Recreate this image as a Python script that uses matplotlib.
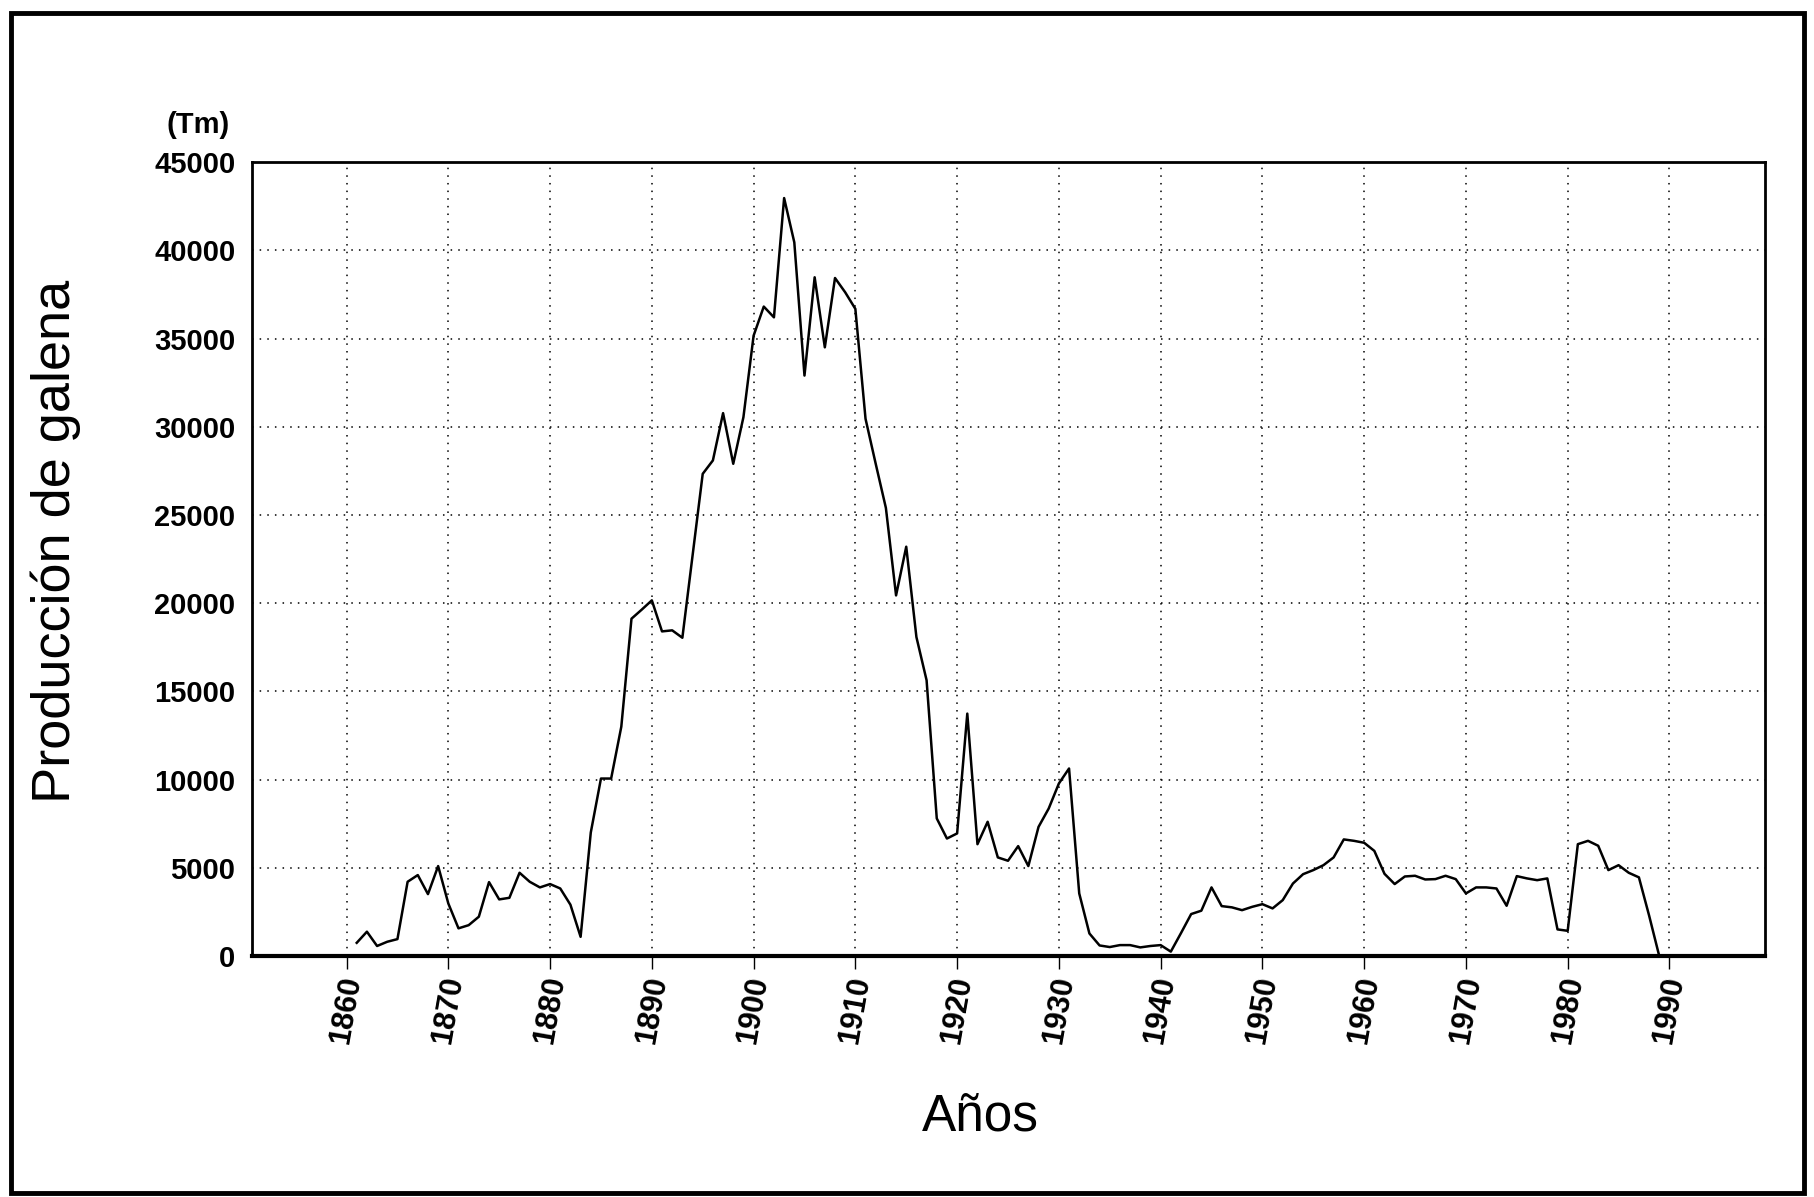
import numpy as np
import matplotlib
matplotlib.use("Agg")
import matplotlib.pyplot as plt
from matplotlib.patches import Rectangle

plt.rcParams["font.family"] = ["Liberation Sans", "DejaVu Sans"]

# producción anual de galena (Tm), 1861-1989
years = np.arange(1861, 1990)
produccion = [
    750, 1380, 570, 810, 960, 4210, 4590, 3510, 5100, 2980,          # 1861-1870
    1570, 1750, 2230, 4190, 3210, 3300, 4720, 4210, 3890, 4080,      # 1871-1880
    3830, 2910, 1090, 7000, 10060, 10060, 13000, 19120, 19630, 20160,  # 1881-1890
    18400, 18460, 18040, 22700, 27330, 28090, 30770, 27900, 30540, 35160,  # 1891-1900
    36810, 36200, 42960, 40450, 32900, 38470, 34500, 38430, 37620, 36680,  # 1901-1910
    30450, 27900, 25400, 20440, 23200, 18080, 15630, 7800, 6660, 6950,  # 1911-1920
    13740, 6340, 7610, 5590, 5400, 6230, 5100, 7320, 8360, 9780,     # 1921-1930
    10630, 3550, 1280, 600, 510, 620, 620, 490, 570, 620,            # 1931-1940
    250, 1300, 2380, 2570, 3890, 2830, 2760, 2600, 2790, 2940,       # 1941-1950
    2700, 3170, 4110, 4640, 4870, 5150, 5590, 6610, 6530, 6420,      # 1951-1960
    5960, 4660, 4080, 4510, 4550, 4340, 4360, 4550, 4360, 3550,      # 1961-1970
    3890, 3890, 3830, 2850, 4530, 4400, 4300, 4400, 1510, 1430,      # 1971-1980
    6340, 6530, 6250, 4870, 5150, 4720, 4460, 2300, 0,               # 1981-1989
]
x_ticks = [1860, 1870, 1880, 1890, 1900, 1910, 1920, 1930, 1940, 1950, 1960, 1970, 1980, 1990]
y_ticks = [0, 5000, 10000, 15000, 20000, 25000, 30000, 35000, 40000, 45000]

fig = plt.figure(figsize=(18.15, 11.97), dpi=100)
ax = fig.add_axes([0.1388, 0.2013, 0.8337, 0.6633])

ax.plot(years, produccion, color="black", lw=1.8)

ax.set_xlim(1850.7, 1999.4)
ax.set_ylim(0, 45000)
ax.set_xticks(x_ticks)
ax.set_yticks(y_ticks)
ax.set_xticklabels([str(t) for t in x_ticks], rotation=80, fontsize=22,
                   fontweight="bold")
ax.set_yticklabels([str(t) for t in y_ticks], fontsize=21, fontweight="bold")
ax.tick_params(axis="x", length=9, width=1, pad=4)
ax.tick_params(axis="y", length=0, pad=12)

ax.grid(True, color="black", linestyle=(0, (1, 4)), linewidth=1.1)
for s in ax.spines.values():
    s.set_linewidth(2)
ax.spines["bottom"].set_linewidth(3)

fig.text(198 / 1815, 1 - 125 / 1197, "(Tm)", fontsize=21, fontweight="bold",
         ha="center", va="center")
fig.text(56 / 1815, 1 - 541 / 1197, "Producción de galena", fontsize=39,
         rotation=90, ha="center", va="center")
fig.text(980 / 1815, 1 - 1117 / 1197, "Años", fontsize=37,
         ha="center", va="center")

# marco exterior
fig.patches.append(Rectangle((11 / 1815, 1 - 1193 / 1197), 1793 / 1815, 1180 / 1197,
                             transform=fig.transFigure, fill=False,
                             edgecolor="black", linewidth=3.5))

fig.savefig("out.png", dpi=100, facecolor="white")
